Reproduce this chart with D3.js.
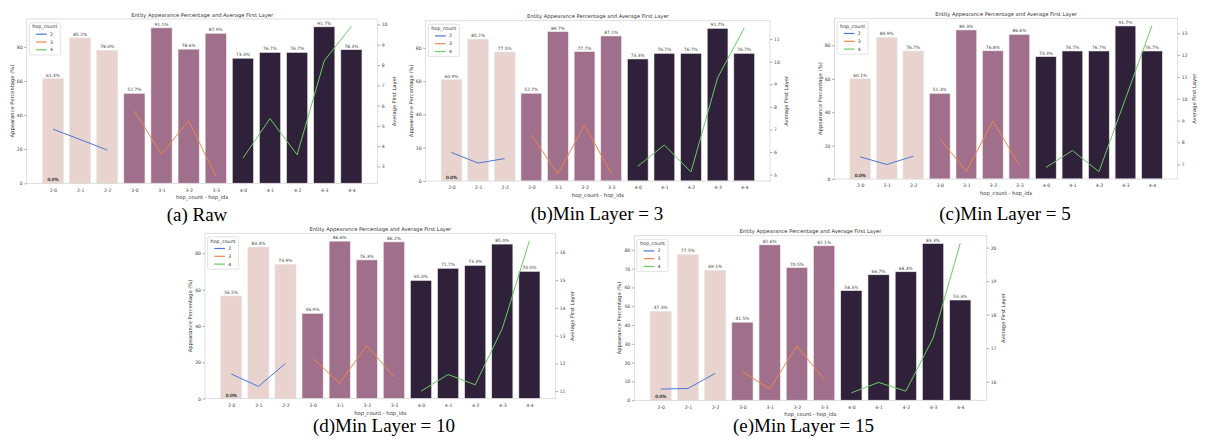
<!DOCTYPE html>
<html>
<head>
<meta charset="utf-8">
<script src="https://cdn.jsdelivr.net/npm/d3@7"></script>
<style>
  body { margin: 0; background: #fff; }
  svg { display: block; }
</style>
</head>
<body>
<svg id="fig"></svg>
<script>
const categories = ["2-0", "2-1", "2-2", "3-0", "3-1", "3-2", "3-3", "4-0", "4-1", "4-2", "4-3", "4-4"];
const hops = [2, 3, 4];

// appearance percentage (bars) and average first layer (lines), per panel
const pctRaw = [61.4, 85.2, 78.0, 52.7, 91.1, 78.6, 87.9, 73.3, 76.7, 76.7, 91.7, 78.3];
const layerRaw = [4.84, 4.33, 3.81, 5.74, 3.61, 5.25, 2.54, 3.41, 5.36, 3.58, 8.21, 9.90];
const pctMin3 = [60.9, 85.2, 77.5, 52.7, 89.7, 77.7, 87.1, 73.3, 76.7, 76.7, 91.7, 76.7];
const layerMin3 = [5.98, 5.51, 5.71, 6.74, 5.04, 7.19, 5.07, 5.37, 6.31, 5.12, 9.28, 11.49];
const pctMin5 = [60.1, 84.9, 76.7, 51.3, 89.3, 76.8, 86.6, 73.3, 76.7, 76.7, 91.7, 76.7];
const layerMin5 = [7.34, 6.99, 7.37, 8.17, 6.68, 8.98, 6.97, 6.85, 7.63, 6.66, 10.0, 13.35];
const pctMin10 = [56.5, 83.4, 73.9, 46.9, 86.6, 76.3, 86.2, 65.0, 71.7, 73.3, 85.0, 70.0];
const layerMin10 = [11.62, 11.17, 12.0, 12.19, 11.29, 12.65, 11.52, 11.0, 11.6, 11.23, 13.26, 16.42];
const pctMin15 = [47.3, 77.5, 69.1, 41.5, 82.6, 70.5, 82.1, 58.3, 66.7, 68.3, 83.3, 53.3];
const layerMin15 = [15.78, 15.8, 16.25, 16.3, 15.78, 17.07, 16.07, 15.67, 15.98, 15.72, 17.3, 20.13];

const leftTicks = [0, 20, 40, 60, 80];
const leftTicksE = [0, 10, 20, 30, 40, 50, 60, 70, 80];
const rightTicksA = [3, 4, 5, 6, 7, 8, 9, 10];
const rightTicksB = [5, 6, 7, 8, 9, 10, 11];
const rightTicksC = [7, 8, 9, 10, 11, 12, 13];
const rightTicksD = [11, 12, 13, 14, 15, 16];
const rightTicksE = [16, 17, 18, 19, 20];

const captions = ["(a) Raw", "(b)Min Layer = 3", "(c)Min Layer = 5", "(d)Min Layer = 10", "(e)Min Layer = 15"];

const barColor = { 2: "#e8d3ce", 3: "#a06f8b", 4: "#2e2139" };
const lineColor = { 2: "#4a76dc", 3: "#ee854a", 4: "#6acc64" };
const textColor = "#444";

const panels = [
  { pct: pctRaw, layer: layerRaw, lt: leftTicks, rt: rightTicksA, x0: 26.7, x1: 377.7, y0: 19, y1: 183.3, cx: 197, cy: 221 },
  { pct: pctMin3, layer: layerMin3, lt: leftTicks, rt: rightTicksB, x0: 425.7, x1: 770, y0: 20.7, y1: 181, cx: 597, cy: 220 },
  { pct: pctMin5, layer: layerMin5, lt: leftTicks, rt: rightTicksC, x0: 834.5, x1: 1177.7, y0: 18.3, y1: 179, cx: 1005, cy: 220 },
  { pct: pctMin10, layer: layerMin10, lt: leftTicks, rt: rightTicksD, x0: 205, x1: 555.7, y0: 233.3, y1: 398.7, cx: 384, cy: 432 },
  { pct: pctMin15, layer: layerMin15, lt: leftTicksE, rt: rightTicksE, x0: 634.3, x1: 986.7, y0: 235.7, y1: 400.3, cx: 803.5, cy: 432 }
];

const svg = d3.select("#fig")
  .attr("width", 1208)
  .attr("height", 439)
  .style("font-family", "'DejaVu Sans', sans-serif");

const hopOf = (c) => +c.split("-")[0];

panels.forEach((p, k) => {
  const g = svg.append("g");
  const xScale = d3.scaleLinear()
    .domain([-0.97, categories.length - 1 + 0.97])
    .range([p.x0, p.x1]);
  const yLeft = d3.scaleLinear()
    .domain([0, d3.max(p.pct) * 1.05])
    .range([p.y1, p.y0]);
  const ext = d3.extent(p.layer);
  const pad = (ext[1] - ext[0]) * 0.05;
  const yRight = d3.scaleLinear()
    .domain([ext[0] - pad, ext[1] + pad])
    .range([p.y1, p.y0]);
  const bw = 0.78;

  // bars
  g.selectAll("rect.bar")
    .data(categories)
    .join("rect")
    .attr("class", "bar")
    .attr("x", (d, i) => xScale(i - bw / 2))
    .attr("width", xScale(bw) - xScale(0))
    .attr("y", (d, i) => yLeft(p.pct[i]))
    .attr("height", (d, i) => yLeft(0) - yLeft(p.pct[i]))
    .attr("fill", (d) => barColor[hopOf(d)])
    .attr("stroke", "#ece6ea")
    .attr("stroke-width", 0.6);

  g.selectAll("text.blabel")
    .data(categories)
    .join("text")
    .attr("class", "blabel")
    .attr("x", (d, i) => xScale(i))
    .attr("y", (d, i) => yLeft(p.pct[i]) - 2)
    .attr("text-anchor", "middle")
    .attr("font-size", 4.4)
    .attr("fill", textColor)
    .text((d, i) => p.pct[i].toFixed(1) + "%");

  // stacked zero labels at the first category
  [0, 0.15].forEach((dx) => {
    g.append("text")
      .attr("x", xScale(0) + dx)
      .attr("y", yLeft(0) - 2)
      .attr("text-anchor", "middle")
      .attr("font-size", 4.4)
      .attr("fill", "#333")
      .text((0).toFixed(1) + "%");
  });

  // lines, one per hop count
  const line = d3.line()
    .x((d) => xScale(d.i))
    .y((d) => yRight(d.v));
  hops.forEach((h) => {
    const pts = categories
      .map((c, i) => ({ i: i, v: p.layer[i], h: hopOf(c) }))
      .filter((d) => d.h === h);
    g.append("path")
      .datum(pts)
      .attr("fill", "none")
      .attr("stroke", lineColor[h])
      .attr("stroke-width", 1)
      .attr("stroke-linejoin", "round")
      .attr("d", line);
  });

  // frame
  g.append("rect")
    .attr("x", p.x0)
    .attr("y", p.y0)
    .attr("width", p.x1 - p.x0)
    .attr("height", p.y1 - p.y0)
    .attr("fill", "none")
    .attr("stroke", "#d6d6d6")
    .attr("stroke-width", 0.8);

  // axes
  const axL = g.append("g")
    .attr("transform", "translate(" + p.x0 + ",0)")
    .call(d3.axisLeft(yLeft).tickValues(p.lt).tickSize(2.5).tickPadding(1.5));
  const axR = g.append("g")
    .attr("transform", "translate(" + p.x1 + ",0)")
    .call(d3.axisRight(yRight).tickValues(p.rt).tickFormat(d3.format("d")).tickSize(2.5).tickPadding(1.5));
  const axB = g.append("g")
    .attr("transform", "translate(0," + p.y1 + ")")
    .call(d3.axisBottom(xScale).tickValues(d3.range(categories.length)).tickFormat((i) => categories[i]).tickSize(0).tickPadding(5));
  [axL, axR, axB].forEach((ax) => {
    ax.select(".domain").remove();
    ax.selectAll("line").attr("stroke", "#777").attr("stroke-width", 0.6);
    ax.selectAll("text")
      .attr("font-family", "'DejaVu Sans', sans-serif")
      .attr("font-size", 4.6)
      .attr("fill", textColor);
  });

  // titles and axis labels
  g.append("text")
    .attr("x", (p.x0 + p.x1) / 2)
    .attr("y", p.y0 - 2.5)
    .attr("text-anchor", "middle")
    .attr("font-size", 5.2)
    .attr("fill", "#333")
    .text("Entity Appearance Percentage and Average First Layer");

  g.append("text")
    .attr("x", (p.x0 + p.x1) / 2)
    .attr("y", p.y1 + 16)
    .attr("text-anchor", "middle")
    .attr("font-size", 5.2)
    .attr("fill", "#333")
    .text("hop_count - hop_idx");

  g.append("text")
    .attr("transform", "translate(" + (p.x0 - 13) + "," + ((p.y0 + p.y1) / 2) + ") rotate(-90)")
    .attr("text-anchor", "middle")
    .attr("font-size", 5.2)
    .attr("fill", "#333")
    .text("Appearance Percentage (%)");

  g.append("text")
    .attr("transform", "translate(" + (p.x1 + 18) + "," + ((p.y0 + p.y1) / 2) + ") rotate(-90)")
    .attr("text-anchor", "middle")
    .attr("font-size", 5.2)
    .attr("fill", "#333")
    .text("Average First Layer");

  // legend
  const lg = g.append("g").attr("transform", "translate(" + (p.x0 + 2.6) + "," + (p.y0 + 3.6) + ")");
  lg.append("rect")
    .attr("width", 31)
    .attr("height", 32.3)
    .attr("rx", 1.5)
    .attr("fill", "#fff")
    .attr("fill-opacity", 0.85)
    .attr("stroke", "#cfcfcf")
    .attr("stroke-width", 0.6);
  lg.append("text")
    .attr("x", 15.5)
    .attr("y", 5.8)
    .attr("text-anchor", "middle")
    .attr("font-size", 4.8)
    .attr("fill", "#333")
    .text("hop_count");
  hops.forEach((h, j) => {
    const yy = 11.6 + j * 7.8;
    lg.append("line")
      .attr("x1", 6.7).attr("x2", 17.4)
      .attr("y1", yy).attr("y2", yy)
      .attr("stroke", lineColor[h])
      .attr("stroke-width", 1.2);
    lg.append("text")
      .attr("x", 20.7)
      .attr("y", yy + 1.6)
      .attr("font-size", 4.6)
      .attr("fill", "#333")
      .text(h);
  });

  // caption
  svg.append("text")
    .attr("x", p.cx)
    .attr("y", p.cy)
    .attr("text-anchor", "middle")
    .attr("font-family", "'Liberation Serif', 'Times New Roman', serif")
    .attr("font-size", 19)
    .attr("fill", "#000")
    .text(captions[k]);
});
</script>
</body>
</html>
